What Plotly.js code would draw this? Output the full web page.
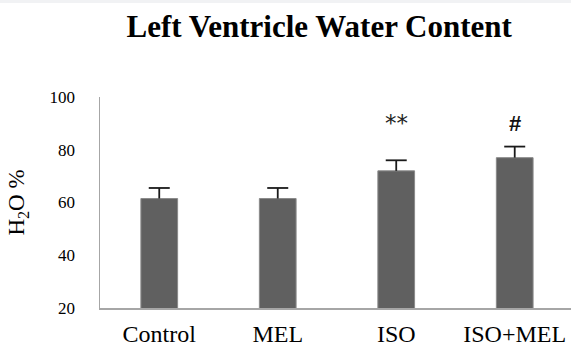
<!DOCTYPE html>
<html>
<head>
<meta charset="utf-8">
<script src="https://cdn.plot.ly/plotly-3.0.1.min.js"></script>
<style>
  html, body { margin: 0; padding: 0; background: #ffffff; }
  #chart { width: 571px; height: 348px; }
</style>
</head>
<body>
<div id="chart"></div>
<script>
// Group names along the x axis
const groups = ['Control', 'MEL', 'ISO', 'ISO+MEL'];
// Mean water content (%) per group
const waterContent = [61.5, 61.5, 72, 77];
// Standard error per group
const errorValues = [4, 4, 4, 4.2];
// Significance markers over each bar
const significance = ['', '', '**', '#'];
// Height (in % units) at which the significance markers sit
const markerLevel = [90, 90, 90, 90];
// Y axis tick values
const yTicks = [20, 40, 60, 80, 100];

const serif = '"Liberation Serif", "Times New Roman", serif';

const bars = {
  type: 'bar',
  x: groups,
  y: waterContent,
  marker: { color: '#606060', line: { color: '#8a8a8a', width: 1 } },
  hoverinfo: 'none'
};

// Upper error whiskers: a stem from the bar top up to mean + error,
// finished with a horizontal cap marker (no cap at the bar top)
const whiskerTops = waterContent.map((v, i) => v + errorValues[i]);
const whiskers = {
  type: 'scatter',
  mode: 'markers',
  x: groups,
  y: whiskerTops,
  marker: { symbol: 'line-ew-open', size: 15, color: '#1a1a1a', line: { color: '#1a1a1a', width: 1.8 } },
  error_y: {
    type: 'data',
    symmetric: false,
    array: errorValues.map(() => 0),
    arrayminus: errorValues,
    color: '#1a1a1a',
    thickness: 1.8,
    width: 0
  },
  cliponaxis: false,
  hoverinfo: 'none'
};

// Asterisks are set in a plain sans face, the hash in a bold sans face
const markerFont = (t) => t === '#'
  ? { family: '"Liberation Sans", Arial, sans-serif', size: 22, color: '#111111', weight: 'bold' }
  : { family: '"DejaVu Sans", sans-serif', size: 23, color: '#222222' };

const annotations = groups.map((g, i) => ({
  x: g,
  y: markerLevel[i],
  xref: 'x',
  yref: 'y',
  text: significance[i] === '#' ? '<b>#</b>' : significance[i],
  showarrow: false,
  font: markerFont(significance[i])
})).filter((a, i) => significance[i] !== '');

const layout = {
  width: 571,
  height: 348,
  margin: { l: 100, r: 0, t: 97, b: 40 },
  paper_bgcolor: '#ffffff',
  plot_bgcolor: '#ffffff',
  showlegend: false,
  bargap: 0.69,
  title: {
    text: '<b>Left Ventricle Water Content</b>',
    font: { family: serif, size: 31, color: '#000000' },
    x: 0.559,
    xanchor: 'center',
    y: 0.925,
    yanchor: 'middle'
  },
  xaxis: {
    type: 'category',
    range: [-0.5, 3.475],
    showline: true,
    linecolor: '#a6a6a6',
    linewidth: 1.5,
    showgrid: false,
    zeroline: false,
    ticks: '',
    ticklabelstandoff: 4,
    tickfont: { family: serif, size: 24, color: '#000000' }
  },
  yaxis: {
    range: [20, 100],
    tickvals: yTicks,
    ticktext: yTicks.map(String),
    showline: true,
    linecolor: '#a6a6a6',
    linewidth: 1.5,
    showgrid: false,
    zeroline: false,
    ticks: '',
    ticklabelstandoff: 20,
    tickfont: { family: serif, size: 17, color: '#000000' },
    title: {
      text: 'H<sub>2</sub>O %',
      font: { family: serif, size: 23, color: '#000000' },
      standoff: 18
    }
  },
  // thin pale band along the top edge of the page
  shapes: [{
    type: 'rect',
    xref: 'paper', yref: 'paper',
    x0: -100 / 471, x1: 1.01,
    y0: 1 + 94 / 211, y1: 1 + 98 / 211,
    fillcolor: '#f1f2f4',
    line: { width: 0 },
    layer: 'below'
  }],
  annotations: annotations
};

Plotly.newPlot('chart', [bars, whiskers], layout, { displayModeBar: false, staticPlot: true });
</script>
</body>
</html>
